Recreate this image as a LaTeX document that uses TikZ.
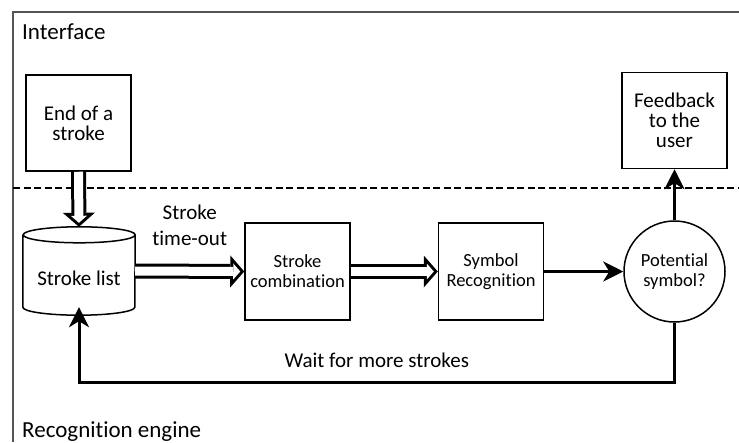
\documentclass[tikz,border=0pt]{standalone}
\usepackage{fontspec}
\setmainfont{Carlito}[Ligatures=NoCommon]
\usetikzlibrary{arrows.meta,positioning}
\definecolor{framegray}{RGB}{85,85,85}
\tikzset{
  iobox/.style={draw, line width=1.5pt,
    minimum width=105pt, minimum height=96pt,
    align=center, inner sep=2pt, font=\fontsize{21}{20}\selectfont},
  procbox/.style={draw, line width=1.5pt,
    minimum width=105pt, minimum height=97pt,
    align=center, inner sep=2pt, font=\fontsize{18.5}{20}\selectfont},
  decision/.style={draw, circle, line width=1.5pt, minimum size=101pt,
    align=center, inner sep=0pt, font=\fontsize{18.5}{20}\selectfont},
  hollow/.style={line width=15pt,
    -{Triangle[length=14pt, width=32pt, line width=0pt]},
    postaction={draw=white, line width=9pt, shorten >=4pt,
      -{Triangle[length=7pt, width=16pt, line width=0pt]}}},
  flow/.style={line width=3pt, line join=miter,
    -{Stealth[length=20pt, width=20pt, inset=6pt]}},
  edgelabel/.style={align=center, inner sep=2pt,
    font=\fontsize{21}{26}\selectfont},
  zonelabel/.style={anchor=base west, inner sep=0pt,
    font=\fontsize{23}{26}\selectfont},
}

\begin{document}
\begin{tikzpicture}[x=1pt, y=-1pt]
  \useasboundingbox (0,0) rectangle (739,442);

  % zones
  \draw[framegray, line width=2pt] (12.5,442) -- (12.5,11.5) -- (739,11.5);
  \draw[line width=1.2pt, dash pattern=on 7pt off 3.5pt] (13,188) -- (739,188);
  \node[zonelabel] (iface) at (22,39) {Interface};
  \node[zonelabel] (engine) at (22,437) {Recognition engine};

  % interface side
  \node[iobox] (eos) at (78.5,123) {End of a\\stroke};

  % stroke list (drawn as a cylinder)
  \node[minimum width=112pt, minimum height=72pt, text height=29pt,
        font=\fontsize{21}{20}\selectfont] (list) at (79,271) {Stroke list};
  \draw[line width=1.5pt]
    (list.north west) -- (list.south west)
    arc[start angle=180, end angle=360, x radius=56pt, y radius=8pt]
    -- (list.north east)
    arc[start angle=0, end angle=360, x radius=56pt, y radius=8pt];

  % recognition chain
  \node[procbox] (comb) at (297.5,271.5) {Stroke\\combination};
  \node[procbox, right=87pt of comb] (rec) {Symbol\\Recognition};
  \node[decision, right=79pt of rec] (pot) {Potential\\symbol?};
  \node[iobox, above=51pt of pot] (feed) {Feedback\\to the\\user};

  % arrows
  \draw[hollow] (eos.south) -- ([yshift=8pt]list.north);
  \draw[hollow] (list.east) -- (comb.west)
    node[midway, above=16.5pt, edgelabel] {Stroke\\time-out};
  \draw[hollow] (comb.east) -- (rec.west);
  \draw[flow] (rec.east) -- (pot.west);
  \draw[flow] (pot.north) -- (feed.south);
  \draw[flow] (pot.south) -- ++(0,60) -| (list.south)
    node[pos=0.25, above=12pt, edgelabel] {Wait for more strokes};
\end{tikzpicture}
\end{document}
